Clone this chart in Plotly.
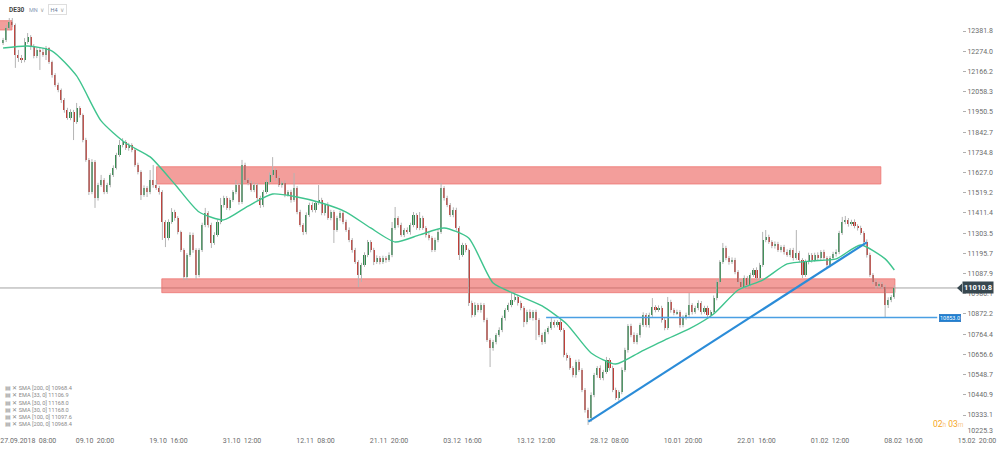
import plotly.graph_objects as go

# ---------------- data ----------------
symbol = "DE30"
first_open = 12318.0
close = [
    12334, 12398, 12430, 12414, 12254, 12238, 12227, 12323, 12350, 12302,
    12248, 12280, 12270, 12254, 12291, 12216, 12147, 12094, 12067, 12014,
    11960, 11918, 11950, 11896, 11971, 11934, 11800, 11694, 11523, 11683,
    11491, 11560, 11587, 11523, 11560, 11613, 11651, 11720, 11773, 11789,
    11757, 11773, 11747, 11667, 11629, 11507, 11544, 11523, 11587, 11560,
    11544, 11523, 11363, 11277, 11363, 11416, 11384, 11309, 11213, 11069,
    11187, 11294, 11213, 11080, 11213, 11347, 11411, 11347, 11251, 11294,
    11363, 11454, 11491, 11437, 11480, 11523, 11560, 11469, 11667, 11587,
    11571, 11534, 11560, 11491, 11454, 11523, 11576, 11613, 11640, 11597,
    11560, 11571, 11507, 11523, 11480, 11544, 11416, 11347, 11309, 11400,
    11454, 11427, 11464, 11480, 11411, 11454, 11384, 11416, 11320, 11384,
    11411, 11363, 11320, 11267, 11213, 11149, 11080, 11133, 11187, 11256,
    11213, 11149, 11171, 11149, 11171, 11160, 11187, 11331, 11384, 11347,
    11294, 11320, 11309, 11347, 11400, 11331, 11384, 11331, 11294, 11277,
    11213, 11267, 11309, 11544, 11491, 11454, 11400, 11427, 11331, 11187,
    11240, 11213, 10931, 10867, 10920, 10893, 10920, 10840, 10733, 10690,
    10722, 10760, 10787, 10851, 10893, 10920, 10947, 10963, 10931, 10904,
    10829, 10883, 10851, 10883, 10840, 10760, 10722, 10776, 10797, 10829,
    10813, 10829, 10787, 10653, 10637, 10584, 10546, 10616, 10573, 10467,
    10360, 10317, 10440, 10546, 10584, 10530, 10562, 10627, 10584, 10467,
    10424, 10456, 10573, 10680, 10808, 10760, 10722, 10760, 10813, 10867,
    10813, 10867, 10909, 10893, 10904, 10840, 10797, 10936, 10893, 10877,
    10883, 10813, 10851, 10867, 10920, 10883, 10904, 10931, 10883, 10904,
    10867, 10883, 10957, 11043, 11149, 11224, 11171, 11149, 11160, 11096,
    11043, 11016, 11064, 11027, 11080, 11107, 11064, 11133, 11267, 11283,
    11256, 11235, 11245, 11213, 11229, 11203, 11187, 11213, 11171, 11197,
    11160, 11080, 11149, 11187, 11160, 11187, 11171, 11203, 11171, 11133,
    11171, 11192, 11203, 11304, 11363, 11374, 11352, 11363, 11341, 11331,
    11304, 11256, 11187, 11080, 11043, 11021, 11032, 11016, 10920, 10947,
    10963, 11010.8,
]
wick_up = [
    11, 16, 21, 21, 8, 27, 16, 21, 21, 10,
    10, 12, 16, 21, 11, 5, 8, 10, 12, 8,
    10, 12, 14, 11, 27, 10, 8, 12, 10, 15,
    10, 12, 27, 10, 12, 10, 14, 12, 27, 21,
    11, 12, 10, 10, 12, 10, 14, 10, 53, 80,
    27, 12, 10, 10, 14, 21, 12, 10, 8, 10,
    10, 14, 12, 10, 10, 12, 27, 10, 12, 14,
    12, 37, 12, 10, 12, 10, 27, 10, 27, 12,
    10, 12, 14, 10, 12, 10, 12, 14, 69, 10,
    12, 10, 14, 10, 12, 80, 10, 12, 10, 14,
    12, 14, 10, 80, 12, 10, 14, 12, 10, 12,
    12, 10, 12, 14, 10, 12, 10, 12, 14, 11,
    10, 12, 14, 10, 12, 10, 14, 32, 59, 10,
    12, 10, 14, 12, 16, 10, 32, 12, 10, 14,
    10, 12, 14, 27, 10, 12, 10, 14, 12, 10,
    12, 10, 8, 12, 14, 10, 12, 10, 12, 10,
    12, 10, 14, 12, 10, 12, 37, 27, 10, 12,
    10, 12, 14, 10, 12, 10, 12, 14, 10, 21,
    12, 10, 14, 10, 12, 14, 10, 12, 14, 10,
    10, 12, 14, 12, 10, 14, 12, 16, 10, 12,
    12, 10, 14, 12, 10, 12, 14, 10, 12, 14,
    10, 12, 48, 10, 14, 12, 10, 27, 12, 10,
    12, 10, 14, 12, 64, 10, 12, 14, 10, 12,
    12, 10, 14, 12, 10, 27, 12, 10, 14, 12,
    10, 12, 14, 10, 12, 10, 14, 12, 43, 37,
    12, 10, 14, 12, 10, 12, 14, 10, 12, 123,
    12, 10, 14, 12, 10, 12, 14, 10, 12, 10,
    10, 12, 14, 12, 27, 21, 10, 12, 14, 10,
    12, 10, 14, 12, 10, 14, 12, 10, 12, 14,
    10, 16,
]
wick_dn = [
    11, 11, 11, 11, 69, 21, 16, 12, 10, 21,
    12, 11, 96, 10, 27, 10, 14, 10, 12, 16,
    14, 10, 12, 96, 10, 14, 12, 10, 16, 12,
    53, 14, 10, 12, 10, 12, 10, 8, 10, 12,
    10, 14, 12, 10, 12, 27, 10, 27, 12, 14,
    10, 14, 96, 48, 12, 10, 14, 12, 10, 16,
    16, 10, 14, 21, 12, 10, 12, 14, 27, 10,
    10, 12, 14, 10, 12, 10, 12, 14, 10, 12,
    12, 10, 12, 14, 16, 12, 10, 12, 10, 14,
    10, 14, 12, 10, 14, 10, 12, 10, 16, 12,
    10, 12, 14, 10, 12, 14, 10, 12, 69, 10,
    14, 12, 10, 12, 14, 10, 64, 37, 10, 12,
    12, 16, 10, 12, 10, 14, 10, 12, 10, 14,
    10, 12, 10, 14, 12, 10, 12, 10, 14, 12,
    11, 10, 12, 10, 14, 12, 10, 12, 14, 27,
    10, 12, 16, 14, 10, 12, 14, 12, 10, 101,
    14, 12, 10, 12, 14, 10, 12, 10, 14, 12,
    27, 12, 10, 14, 107, 12, 14, 10, 12, 10,
    14, 12, 10, 12, 14, 10, 12, 14, 10, 12,
    14, 37, 21, 12, 14, 10, 12, 10, 14, 12,
    11, 14, 12, 10, 14, 12, 10, 12, 14, 10,
    12, 14, 10, 12, 10, 14, 12, 10, 14, 12,
    10, 14, 12, 10, 12, 14, 10, 12, 14, 10,
    14, 12, 10, 12, 14, 10, 12, 14, 10, 12,
    12, 16, 10, 14, 12, 10, 12, 14, 10, 12,
    10, 12, 14, 10, 12, 14, 10, 12, 14, 10,
    12, 16, 10, 12, 14, 10, 12, 14, 10, 16,
    12, 10, 14, 12, 10, 12, 14, 10, 12, 14,
    10, 12, 14, 10, 12, 14, 10, 12, 64, 16,
    12, 10,
]
# moving average (green) read every 8 bars, plus the last bar
ema_values = [
    12291, 12302, 12275, 12142, 11902, 11784, 11710, 11566, 11416, 11374,
    11448, 11512, 11496, 11464, 11416, 11331, 11256, 11294, 11331, 11277,
    11037, 10973, 10915, 10819, 10664, 10605, 10669, 10733, 10792, 10872,
    11000, 11053, 11139, 11155, 11166, 11240, 11166, 11106.9,
]
time_labels = ["27.09.2018  08:00", "09.10  20:00", "19.10  16:00", "31.10  12:00",
               "12.11  08:00", "21.11  20:00", "03.12  16:00", "13.12  12:00",
               "28.12  08:00", "10.01  20:00", "22.01  16:00", "01.02  12:00",
               "08.02  16:00", "15.02  20:00"]
price_ticks = [12381.8, 12274.0, 12166.2, 12058.3, 11950.5, 11842.7, 11734.8,
               11627.0, 11519.2, 11411.4, 11303.5, 11195.7, 11087.9, 10980.1,
               10872.2, 10764.4, 10656.6, 10548.7, 10440.9, 10333.1]
bottom_price_tick = 10225.3
last_price = 11010.8
support_level = 10853.0
# drawn zones: (start bar, end bar, low price, high price)
zones = [(50.1, 286.6, 11565.5, 11657.8),
         (51.8, 291.2, 10985.6, 11059.8),
         (-1.5, 2.9, 12387.0, 12437.0)]
support_start_bar = 177.3
trend_from = (191.1, 10297.4)
trend_to = (282.0, 11254.5)
indicators = ["SMA [200, 0] 10968.4", "EMA [33, 0] 11106.9", "SMA [30, 0] 11168.0",
              "SMA [30, 0] 11168.0", "SMA [100, 0] 11097.6", "SMA [200, 0] 10968.4"]
timer = ("02", "03")

# ---------------- derived ----------------
n = len(close)
bars = list(range(n))
opens = [first_open] + close[:-1]
highs = [max(o, c) + u for o, c, u in zip(opens, close, wick_up)]
lows = [min(o, c) - d for o, c, d in zip(opens, close, wick_dn)]
ema_bars = list(range(0, 289, 8)) + [n - 1]

GREEN = "#2f8a4c"
RED = "#c0362f"
FONT = "Roboto"
YRANGE = [10221.1, 12547.2]

fig = go.Figure()

# wicks
wx, wy = [], []
for i in bars:
    wx += [i, i, None]
    wy += [lows[i], highs[i], None]
fig.add_trace(go.Scatter(x=wx, y=wy, mode="lines", line=dict(color="#b4b4b4", width=1),
                         hoverinfo="skip", showlegend=False))
# bodies
base = [min(o, c) for o, c in zip(opens, close)]
height = [max(abs(c - o), 4) for o, c in zip(opens, close)]
colors = [GREEN if c >= o else RED for o, c in zip(opens, close)]
fig.add_trace(go.Bar(x=bars, y=height, base=base, width=0.68,
                     marker=dict(color=colors, line=dict(width=0)), showlegend=False))
# moving average
fig.add_trace(go.Scatter(x=ema_bars, y=ema_values, mode="lines",
                         line=dict(color="#3fc48e", width=1.4, shape="spline", smoothing=0.6),
                         showlegend=False, hoverinfo="skip"))
# empty trace so that the overlay price axis (bottom label) is drawn
fig.add_trace(go.Scatter(x=[None], y=[None], yaxis="y2", mode="lines", showlegend=False,
                         hoverinfo="skip"))

shapes = []
for x0, x1, y0, y1 in zones:
    shapes.append(dict(type="rect", xref="x", yref="y", x0=x0, x1=x1, y0=y0, y1=y1,
                       fillcolor="rgba(234,78,72,0.55)", line=dict(color="rgba(236,110,105,0.7)", width=1),
                       layer="below"))
shapes.append(dict(type="line", xref="paper", yref="y", x0=0, x1=0.962, y0=last_price, y1=last_price,
                   line=dict(color="#a3a3a3", width=1), layer="below"))
shapes.append(dict(type="line", xref="x", yref="y", x0=support_start_bar, x1=305, y0=support_level,
                   y1=support_level, line=dict(color="#4a9fe3", width=1.5), layer="above"))
shapes.append(dict(type="line", xref="x", yref="y", x0=trend_from[0], y0=trend_from[1],
                   x1=trend_to[0], y1=trend_to[1], line=dict(color="#2b8cd8", width=2.2), layer="above"))
shapes.append(dict(type="path", xref="paper", yref="y",
                   path=f"M 0.957,{last_price} L 0.962,{last_price + 24} L 0.962,{last_price - 24} Z",
                   fillcolor="#37474f", line=dict(width=0)))

# plot area is 436 px tall (bottom margin 13)
def py(pix):
    return (436 - pix) / 436

annotations = [
    dict(xref="paper", yref="paper", x=0.007, y=py(10), xanchor="left", yanchor="middle",
         text=f"<b>{symbol}</b>", showarrow=False, font=dict(family=FONT, size=6.5, color="#444")),
    dict(xref="paper", yref="paper", x=0.027, y=py(10), xanchor="left", yanchor="middle",
         text="MN  <span style='color:#aaa'>∨</span>", showarrow=False,
         font=dict(family=FONT, size=5.5, color="#8a9ab5")),
    dict(xref="paper", yref="paper", x=0.048, y=py(10), xanchor="left", yanchor="middle",
         text="H4  <span style='color:#aaa'>∨</span>", showarrow=False, bordercolor="#dedede",
         borderwidth=1, borderpad=1.5, font=dict(family=FONT, size=5.5, color="#6c7d99")),
    dict(xref="paper", yref="paper", x=0.003, y=py(383), xanchor="left", yanchor="top", align="left",
         text="<br>".join("▤ ✕ " + s for s in indicators), showarrow=False,
         font=dict(family=FONT, size=5.6, color="#8a8a8a")),
    dict(xref="paper", yref="y", x=0.978, y=last_price, xanchor="center", yanchor="middle",
         text=f"<b>{last_price:.1f}</b>", showarrow=False, bgcolor="#37474f", borderpad=1,
         font=dict(family=FONT, size=7.5, color="white")),
    dict(xref="paper", yref="y", x=0.950, y=support_level, xanchor="center", yanchor="middle",
         text=f"{support_level:.1f}", showarrow=False, bgcolor="#1f80d2", bordercolor="#1769b8",
         borderwidth=0.5, borderpad=0.5, font=dict(family=FONT, size=5.5, color="white")),
    dict(xref="paper", yref="paper", x=0.948, y=py(424), xanchor="center", yanchor="middle",
         text=f"{timer[0]}<span style='font-size:6.5px;color:#f7c98c'>h</span> "
              f"{timer[1]}<span style='font-size:6.5px;color:#f7c98c'>m</span>",
         showarrow=False, font=dict(family=FONT, size=8.5, color="#f5a623")),
]

tick_bars = [6 + 24 * j for j in range(len(time_labels))]
tick_bars[0] = 8.2
ticktext = [t.replace("  ", "\u00a0\u00a0") for t in time_labels]

yfont = dict(family=FONT, size=7, color="#6b6b6b")
fig.update_layout(
    width=1000, height=449,
    margin=dict(l=0, r=0, t=0, b=13),
    paper_bgcolor="white", plot_bgcolor="white",
    showlegend=False, bargap=0,
    xaxis=dict(range=[-1.02, 325.5], tickvals=tick_bars, ticktext=ticktext, showgrid=False,
               zeroline=False, showline=False, ticks="", ticklabelstandoff=-1,
               tickfont=dict(family=FONT, size=7, color="#6b6b6b")),
    yaxis=dict(range=YRANGE, side="right", anchor="free", position=0.962,
               tickvals=price_ticks, ticktext=[f"{v:.1f}" for v in price_ticks],
               ticks="outside", ticklen=3, tickcolor="#b0b0b0", showgrid=False, zeroline=False,
               showline=False, tickfont=yfont),
    yaxis2=dict(range=YRANGE, side="right", anchor="free", position=0.962, overlaying="y",
                tickvals=[bottom_price_tick], ticktext=[f"{bottom_price_tick:.1f}"],
                ticks="outside", ticklen=3, tickcolor="rgba(0,0,0,0)", ticklabelshift=-5,
                showgrid=False, zeroline=False, showline=False, tickfont=yfont),
    shapes=shapes, annotations=annotations,
)

fig.write_html("out.html", config={"displayModeBar": False},
               post_script="document.body.style.margin='0';document.body.style.padding='0';")
